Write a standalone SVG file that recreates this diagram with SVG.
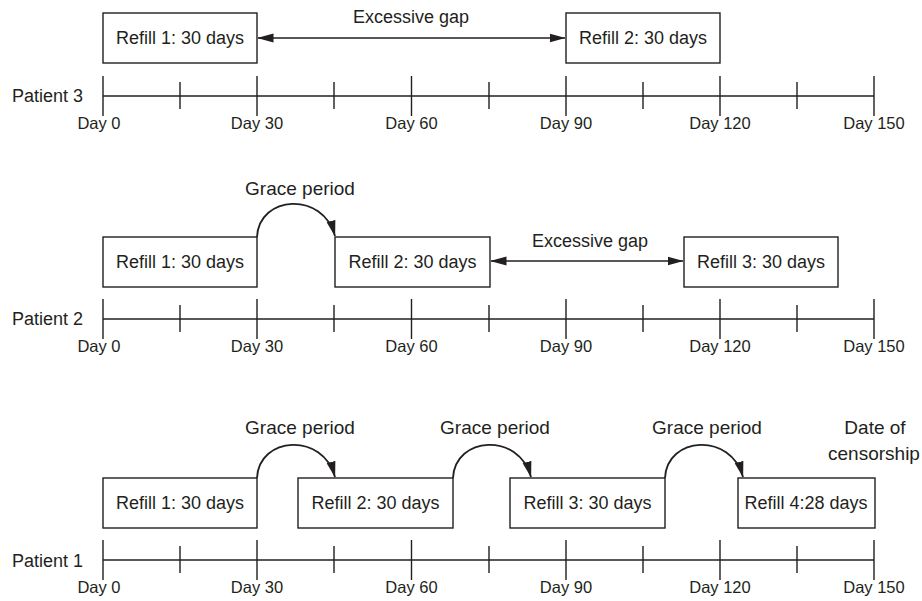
<svg xmlns="http://www.w3.org/2000/svg" width="922" height="601" viewBox="0 0 922 601">
<defs>
<style>
text{font-family:"Liberation Sans",Arial,sans-serif;fill:#231f20}
.t{font-size:18px;text-anchor:middle}
.g{font-size:19px;text-anchor:middle}
.d{font-size:16.5px;text-anchor:middle}
.p{font-size:18px}
.box{fill:#fff;stroke:#231f20;stroke-width:1.4}
.ln{fill:none;stroke:#231f20;stroke-width:1.4}
.arc{fill:none;stroke:#231f20;stroke-width:1.8}
</style>
<marker id="arr" viewBox="0 0 16 10" markerUnits="userSpaceOnUse" markerWidth="16" markerHeight="10" refX="15.5" refY="5" orient="auto-start-reverse">
<path d="M0,0.5 L16,5 L0,9.5 z" fill="#231f20"/>
</marker>
<g id="axis">
<line class="ln" x1="103" y1="0" x2="874" y2="0"/>
<path class="ln" d="M103,-20V20M257,-20V20M411.5,-20V20M566,-20V20M720,-20V20M874,-20V20"/>
<path class="ln" d="M180,-14V13M334,-14V13M489,-14V13M643,-14V13M797,-14V13"/>
<text class="d" x="99" y="33">Day 0</text>
<text class="d" x="257" y="33">Day 30</text>
<text class="d" x="411.5" y="33">Day 60</text>
<text class="d" x="566" y="33">Day 90</text>
<text class="d" x="720" y="33">Day 120</text>
<text class="d" x="874" y="33">Day 150</text>
</g>
</defs>

<!-- Patient 3 -->
<g id="patient3-axis">
<use href="#axis" x="0" y="96"/>
<text class="p" x="12" y="102">Patient 3</text>
</g>
<g id="p3-refill1"><rect class="box" x="103" y="13" width="154" height="50"/><text class="t" x="180" y="44">Refill 1: 30 days</text></g>
<g id="p3-refill2"><rect class="box" x="566" y="13" width="154" height="50"/><text class="t" x="643" y="44">Refill 2: 30 days</text></g>

<!-- Patient 2 -->
<g id="patient2-axis">
<use href="#axis" x="0" y="319"/>
<text class="p" x="12" y="325">Patient 2</text>
</g>
<g id="p2-refill1"><rect class="box" x="103" y="237" width="154" height="50"/><text class="t" x="180" y="268">Refill 1: 30 days</text></g>
<g id="p2-refill2"><rect class="box" x="335" y="237" width="155" height="50"/><text class="t" x="412.5" y="268">Refill 2: 30 days</text></g>
<g id="p2-refill3"><rect class="box" x="684" y="237" width="154" height="50"/><text class="t" x="761" y="268">Refill 3: 30 days</text></g>

<!-- Patient 1 -->
<g id="patient1-axis">
<use href="#axis" x="0" y="560"/>
<text class="p" x="12" y="567">Patient 1</text>
</g>
<g id="p1-refill1"><rect class="box" x="103" y="478" width="154" height="50"/><text class="t" x="180" y="509">Refill 1: 30 days</text></g>
<g id="p1-refill2"><rect class="box" x="298" y="478" width="155" height="50"/><text class="t" x="375.5" y="509">Refill 2: 30 days</text></g>
<g id="p1-refill3"><rect class="box" x="510" y="478" width="155" height="50"/><text class="t" x="587.5" y="509">Refill 3: 30 days</text></g>
<g id="p1-refill4"><rect class="box" x="738" y="478" width="137" height="50"/><text class="t" x="806" y="509">Refill 4:28 days</text></g>

<!-- Connectors -->
<g id="connectors">
<line class="ln" x1="258" y1="38" x2="565" y2="38" marker-start="url(#arr)" marker-end="url(#arr)"/>
<line class="ln" x1="491" y1="261" x2="683" y2="261" marker-start="url(#arr)" marker-end="url(#arr)"/>
<path class="arc" d="M257,237 C259,195 323,191 335,236" marker-end="url(#arr)"/>
<path class="arc" d="M257,478 C259,436 323,432 335,477" marker-end="url(#arr)"/>
<path class="arc" d="M453,478 C455,436 519,432 531,477" marker-end="url(#arr)"/>
<path class="arc" d="M665,478 C667,436 731,432 743,477" marker-end="url(#arr)"/>
</g>

<!-- Labels -->
<g id="labels">
<text class="t" x="411" y="23">Excessive gap</text>
<text class="t" x="590" y="247">Excessive gap</text>
<text class="g" x="300" y="195">Grace period</text>
<text class="g" x="300" y="434">Grace period</text>
<text class="g" x="495" y="434">Grace period</text>
<text class="g" x="707" y="434">Grace period</text>
<text class="g" x="875" y="434">Date of</text>
<text class="g" x="874" y="460">censorship</text>
</g>
</svg>
